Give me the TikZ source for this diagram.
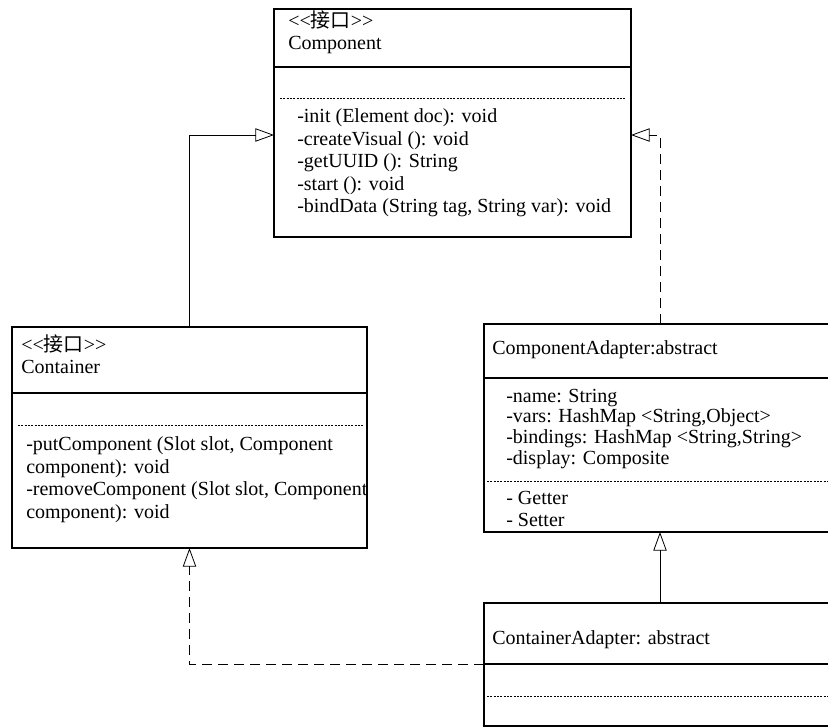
\documentclass[tikz,border=0pt]{standalone}
\usepackage{fontspec}
\setmainfont{Liberation Serif}
\newfontfamily\cjk{Noto Sans CJK SC}
\usetikzlibrary{arrows.meta}
\newcommand{\iface}{<\kern0pt<{\cjk 接口}>\kern0pt>}

\begin{document}
\begin{tikzpicture}[
		x=0.75pt, y=-0.75pt,
		classbox/.style={draw, line width=0.8pt, rectangle, anchor=north west, inner sep=0pt, outer sep=0pt},
		member/.style={anchor=base west, align=left, inner sep=0pt, font=\fontsize{15}{16.8}\selectfont},
		divider/.style={line width=0.8pt},
		dotsep/.style={line width=0.5pt, dash pattern=on 1.5pt off 1pt},
		inherit/.style={line width=0.6pt, -{Triangle[open, length=14pt, width=10pt]}},
		realize/.style={inherit, dash pattern=on 7.5pt off 4.5pt},
		]
	\useasboundingbox (0,0) rectangle (828,727);
	\clip (0,0) rectangle (828,727);

	% classes
	\node (component) [classbox, minimum width=267.75pt, minimum height=171pt] at (274,9) {};
	\node (container) [classbox, minimum width=266.25pt, minimum height=165.75pt] at (12,327) {};
	\node (compadapter) [classbox, minimum width=264pt, minimum height=156pt] at (484,324) {};
	\node (contadapter) [classbox, minimum width=264pt, minimum height=92.25pt] at (484,603) {};

	\draw[divider] (component.west |- 0,67) -- (component.east |- 0,67);
	\draw[dotsep] (280,98) -- (625,98);
	\draw[divider] (container.west |- 0,393) -- (container.east |- 0,393);
	\draw[dotsep] (18,425) -- (363,425);
	\draw[divider] (compadapter.west |- 0,378) -- (compadapter.east |- 0,378);
	\draw[dotsep] (487,481) -- (836,481);
	\draw[divider] (contadapter.west |- 0,664) -- (contadapter.east |- 0,664);
	\draw[dotsep] (487,696) -- (836,696);

	% texts (base = last line)
	\node (componentname) [member, font=\fontsize{15}{16.5}\selectfont] at (288,50) {\iface\\Component};
	\node (componentops) [member] at (297,212.5) {-init (Element doc): void\\-createVisual (): void\\-getUUID (): String\\-start (): void\\-bindData (String tag, String var): void};
	\node (containername) [member, font=\fontsize{15}{16.5}\selectfont] at (21,373) {\iface\\Container};
	\node (containerops) [member] at (26,518) {-putComponent (Slot slot, Component\\component): void\\-removeComponent (Slot slot, Component\\component): void};
	\node (compadaptername) [member] at (492,354.5) {ComponentAdapter:abstract};
	\node (compadapterattrs) [member, font=\fontsize{15}{15.5}\selectfont] at (506,464) {-name: String\\-vars: HashMap <String,Object>\\-bindings: HashMap <String,String>\\-display: Composite};
	\node (compadapterops) [member, font=\fontsize{15}{16.2}\selectfont] at (506,526) {- Getter\\- Setter};
	\node (contadaptername) [member] at (492,644) {ContainerAdapter: abstract};

	% relations
	\draw[inherit] (container.north) |- ([yshift=-9pt]component.west);
	\draw[realize] (compadapter.north) |- ([yshift=-9pt]component.east);
	\draw[inherit] (contadapter.north) -- (compadapter.south);
	\draw[realize] (contadapter.west) -| (container.south);
\end{tikzpicture}
\end{document}
